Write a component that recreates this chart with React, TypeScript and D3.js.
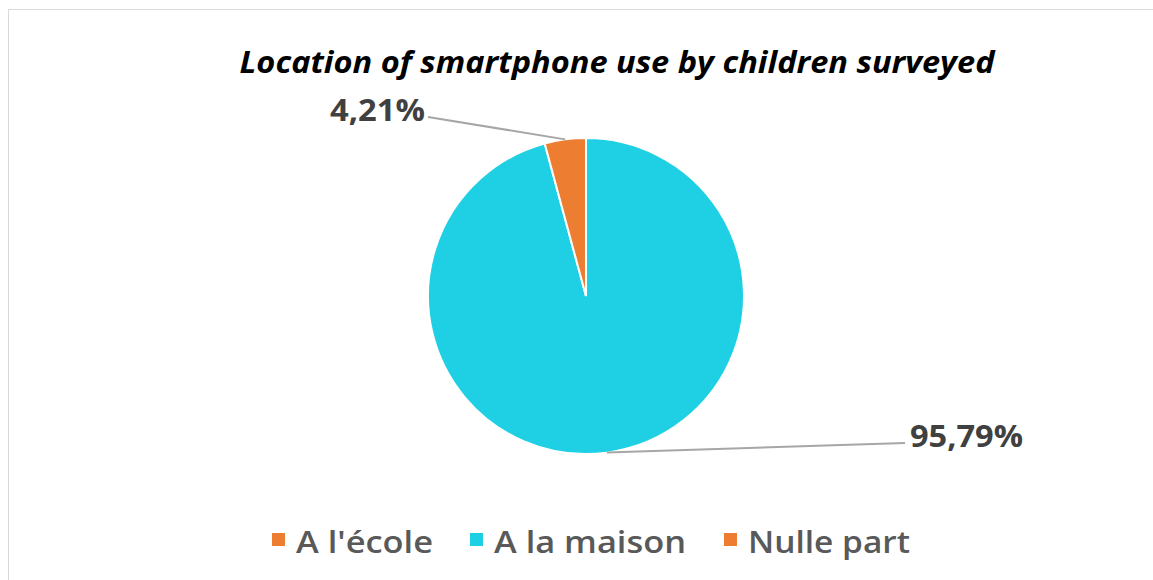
import React from "react";
import * as d3 from "d3";

const categories = ["A l'école", "A la maison", "Nulle part"];
const values = [0, 95.79, 4.21];
const labels = ["", "95,79%", "4,21%"];
const colors = ["#ED7D31", "#1FD0E4", "#ED7D31"];
const title = "Location of smartphone use by children surveyed";

export default function App() {
  const W = 1153, H = 580;
  const cx = 586, cy = 296, r = 158;
  const pie = d3.pie<number>().sort(null).value((d) => d)(values);
  const arc = d3.arc<d3.PieArcDatum<number>>().innerRadius(0).outerRadius(r);
  const font = "'Open Sans', 'Noto Sans', sans-serif";

  const labelPos = [
    null,
    { x: 910, y: 447, anchor: "start", lx: 905, ly: 443, w: 113 },
    { x: 425, y: 121, anchor: "end", lx: 428, ly: 117, w: 95 },
  ];

  const legendX = [272, 470, 724];
  const legendW = [137, 192, 162];

  return (
    <svg width={W} height={H} style={{ position: "fixed", left: 0, top: 0 }}>
      <rect x={0} y={0} width={W} height={H} fill="#fff" />
      <rect x={8.5} y={9.5} width={W + 10} height={H} fill="#fff" stroke="#d9d9d9" />
      <text
        x={617}
        y={73}
        textAnchor="middle"
        fontFamily={font}
        fontStyle="italic"
        fontWeight="bold"
        fontSize={31}
        fill="#000"
        textLength={755}
        lengthAdjust="spacingAndGlyphs"
      >
        {title}
      </text>
      <g transform={`translate(${cx},${cy})`}>
        {pie.map((p, i) =>
          p.value > 0 ? (
            <path key={i} d={arc(p) || ""} fill={colors[i]} stroke="#fff" strokeWidth={2} />
          ) : null
        )}
      </g>
      {pie.map((p, i) => {
        const lp = labelPos[i];
        if (!lp || p.value <= 0) return null;
        const mid = (p.startAngle + p.endAngle) / 2;
        const ax = cx + Math.sin(mid) * r;
        const ay = cy - Math.cos(mid) * r;
        return (
          <g key={i}>
            <line x1={ax} y1={ay} x2={lp.lx} y2={lp.ly} stroke="#a6a6a6" strokeWidth={2} />
            <text
              x={lp.x}
              y={lp.y}
              textAnchor={lp.anchor}
              fontFamily={font}
              fontWeight="bold"
              fontSize={31}
              fill="#404040"
              textLength={lp.w}
              lengthAdjust="spacingAndGlyphs"
            >
              {labels[i]}
            </text>
          </g>
        );
      })}
      {categories.map((c, i) => (
        <g key={c}>
          <rect x={legendX[i]} y={533} width={13} height={13} fill={colors[i]} />
          <text
            x={legendX[i] + 24}
            y={553}
            fontFamily={font}
            fontWeight={600}
            fontSize={31}
            fill="#595959"
            textLength={legendW[i]}
            lengthAdjust="spacingAndGlyphs"
          >
            {c}
          </text>
        </g>
      ))}
    </svg>
  );
}
